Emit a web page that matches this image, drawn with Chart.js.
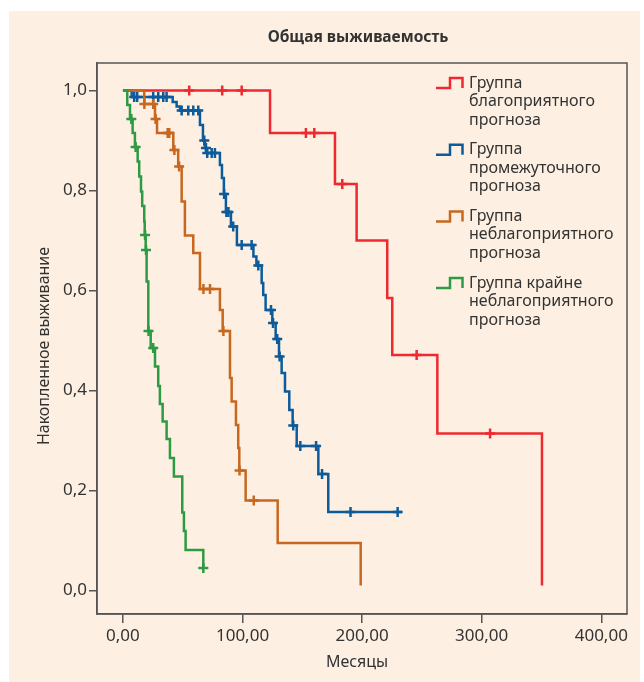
<!DOCTYPE html>
<html>
<head>
<meta charset="utf-8">
<script src="https://cdn.jsdelivr.net/npm/chart.js@4/dist/chart.umd.min.js"></script>
<style>
  html, body { margin: 0; padding: 0; background: #ffffff; }
  #panel { position: absolute; left: 9px; top: 11px; width: 631px; height: 671px; background: #fdf0e2; }
  #chart { position: absolute; left: 0; top: 0; }
</style>
</head>
<body>
<div id="panel"></div>
<canvas id="chart" width="644" height="682"></canvas>
<script>
// Общая выживаемость — Kaplan-Meier curves by prognosis group

const chartTitle = 'Общая выживаемость';
const xTitle = 'Месяцы';
const yTitle = 'Накопленное выживание';
const xTicks = [0, 100, 200, 300, 400];
const yTicks = [0, 0.2, 0.4, 0.6, 0.8, 1.0];

const groupLabels = [
  ['Группа', 'благоприятного', 'прогноза'],
  ['Группа', 'промежуточного', 'прогноза'],
  ['Группа', 'неблагоприятного', 'прогноза'],
  ['Группа крайне', 'неблагоприятного', 'прогноза']
];
const groupColors = ['#ee2a30', '#0d5b9b', '#c8671f', '#2e9a43'];

// favourable
const favTime = [0, 123, 177.3, 195.4, 221, 225.2, 262.9, 350.4];
const favSurv = [1, 0.915, 0.813, 0.700, 0.585, 0.471, 0.314, 0.01];
const favCensored = [55.4, 83, 99.3, 153, 160, 183.4, 245.6, 307];

// intermediate
const midTime = [0, 7.3, 41.6, 44.9, 47.7, 64.4, 66.9, 68.6, 69.8, 81.1, 82.8, 84.4, 86.1,
  90.3, 95.3, 109.1, 111.6, 116, 117.3, 119.3, 124.9, 127.7, 130.5, 132.7, 135.5,
  139.1, 141.9, 145.3, 163.4, 171.7, 233];
const midSurv = [1, 0.987, 0.977, 0.968, 0.960, 0.931, 0.900, 0.885, 0.875, 0.851, 0.825, 0.793, 0.757,
  0.728, 0.691, 0.668, 0.650, 0.615, 0.591, 0.561, 0.535, 0.503, 0.468, 0.435, 0.398,
  0.361, 0.330, 0.289, 0.233, 0.157, 0.157];
const midCensored = [9.4, 11.9, 25.3, 29.5, 33.7, 36.5, 49.1, 54.6, 58.8, 63.0, 68, 69.4, 70.5,
  74.2, 76.9, 84.6, 86.5, 88.2, 92.2, 99.3, 107.6, 113.2, 123.8, 125.5, 129, 131, 142.4,
  148.3, 161.5, 166.5, 190.3, 229.7];

// unfavourable
const badTime = [0, 17.8, 26.8, 28.5, 42.1, 46.2, 49.1, 51.8, 58.8, 64.4, 81.1, 83.4, 89.5,
  90.9, 94.5, 96.4, 97.3, 102.6, 129.4, 198.8];
const badSurv = [1, 0.973, 0.943, 0.915, 0.881, 0.848, 0.778, 0.710, 0.675, 0.603, 0.561, 0.519, 0.425,
  0.378, 0.331, 0.285, 0.240, 0.180, 0.095, 0.01];
const badCensored = [17.9, 25.3, 27.3, 37.4, 38.7, 43, 47, 67.3, 72.8, 84, 97.5, 109.4];

// extremely unfavourable
const worstTime = [0, 3.6, 5.9, 8.1, 10, 12.3, 13.6, 15.1, 16.1, 17.8, 18.2, 19, 19.8, 21.2, 23.2,
  26.8, 29.5, 30.9, 33.2, 36.5, 39.3, 42.6, 49.6, 51, 52.4, 67.2];
const worstSurv = [1, 0.971, 0.943, 0.915, 0.887, 0.858, 0.828, 0.798, 0.769, 0.738, 0.711, 0.681, 0.618,
  0.519, 0.485, 0.448, 0.409, 0.373, 0.338, 0.303, 0.265, 0.228, 0.156, 0.119, 0.081, 0.045];
const worstCensored = [7, 10.6, 18.5, 19.3, 21.4, 25.3, 67.2];

const FONT = "'Noto Sans', sans-serif";
const TEXT = '#333333';
const AXIS = '#555555';

// value of the step curve at time t
function survAt(times, surv, t) {
  let s = surv[0];
  for (let i = 0; i < times.length; i++) {
    if (times[i] <= t) s = surv[i];
  }
  return s;
}

function curveSet(times, surv, color, order) {
  return {
    data: times.map((t, i) => ({ x: t, y: surv[i] })),
    showLine: true,
    stepped: 'before',
    borderColor: color,
    borderWidth: 2.5,
    pointRadius: 0,
    fill: false,
    order: order
  };
}

function censorSet(censored, times, surv, color, order) {
  return {
    data: censored.map(t => ({ x: t, y: survAt(times, surv, t) })),
    showLine: false,
    pointStyle: 'cross',
    pointRadius: 5,
    borderColor: color,
    borderWidth: 2.5,
    order: order
  };
}

// frame, titles and step-legend
const decorPlugin = {
  id: 'decor',
  afterDraw(chart) {
    const { ctx, chartArea: a } = chart;
    ctx.save();
    ctx.strokeStyle = AXIS;
    ctx.lineWidth = 1.5;
    ctx.strokeRect(a.left, a.top, a.right - a.left, a.bottom - a.top);

    ctx.fillStyle = TEXT;
    ctx.textAlign = 'center';
    ctx.textBaseline = 'middle';
    ctx.font = `bold 15.5px ${FONT}`;
    ctx.fillText(chartTitle, 358, 38);

    ctx.font = `16px ${FONT}`;
    ctx.fillText(xTitle, 357, 662);

    ctx.save();
    ctx.translate(44, 346);
    ctx.rotate(-Math.PI / 2);
    ctx.fillText(yTitle, 0, 0);
    ctx.restore();

    // legend
    ctx.textAlign = 'left';
    ctx.font = `16px ${FONT}`;
    groupLabels.forEach((lines, i) => {
      const top = 83 + i * 66.7;
      ctx.strokeStyle = groupColors[i];
      ctx.lineWidth = 2.5;
      ctx.beginPath();
      ctx.moveTo(436, top + 5);
      ctx.lineTo(450, top + 5);
      ctx.lineTo(450, top - 5);
      ctx.lineTo(462.5, top - 5);
      ctx.lineTo(462.5, top + 5);
      ctx.stroke();
      ctx.fillStyle = TEXT;
      lines.forEach((line, j) => {
        ctx.fillText(line, 469, top + j * 18.5);
      });
    });
    ctx.restore();
  }
};

const datasets = [
  curveSet(worstTime, worstSurv, groupColors[3], 1),
  censorSet(worstCensored, worstTime, worstSurv, groupColors[3], 1),
  curveSet(badTime, badSurv, groupColors[2], 2),
  censorSet(badCensored, badTime, badSurv, groupColors[2], 2),
  curveSet(midTime, midSurv, groupColors[1], 3),
  censorSet(midCensored, midTime, midSurv, groupColors[1], 3),
  curveSet(favTime, favSurv, groupColors[0], 4),
  censorSet(favCensored, favTime, favSurv, groupColors[0], 4)
];

new Chart(document.getElementById('chart'), {
  type: 'scatter',
  data: { datasets: datasets },
  plugins: [decorPlugin],
  options: {
    responsive: false,
    animation: false,
    layout: { padding: { top: 63, right: 17, left: 0, bottom: 0 } },
    plugins: {
      legend: { display: false },
      title: { display: false },
      tooltip: { enabled: false }
    },
    scales: {
      x: {
        type: 'linear',
        min: -21.7,
        max: 421.5,
        afterBuildTicks: s => { s.ticks = xTicks.map(v => ({ value: v })); },
        afterFit: s => { s.height = 68; },
        grid: { display: true, drawOnChartArea: false, drawTicks: true, tickLength: 9, color: AXIS, lineWidth: 1.5 },
        border: { display: true, color: AXIS, width: 1.5 },
        ticks: {
          color: TEXT,
          padding: 3,
          maxRotation: 0,
          font: { family: FONT, size: 17 },
          callback: v => v.toFixed(2).replace('.', ',')
        }
      },
      y: {
        type: 'linear',
        min: -0.047,
        max: 1.055,
        afterBuildTicks: s => { s.ticks = yTicks.map(v => ({ value: v })); },
        afterFit: s => { s.width = 97; },
        grid: { display: true, drawOnChartArea: false, drawTicks: true, tickLength: 8, color: AXIS, lineWidth: 1.5 },
        border: { display: true, color: AXIS, width: 1.5 },
        ticks: {
          color: TEXT,
          padding: 2,
          font: { family: FONT, size: 17 },
          callback: v => v.toFixed(1).replace('.', ',')
        }
      }
    }
  }
});
</script>
</body>
</html>
